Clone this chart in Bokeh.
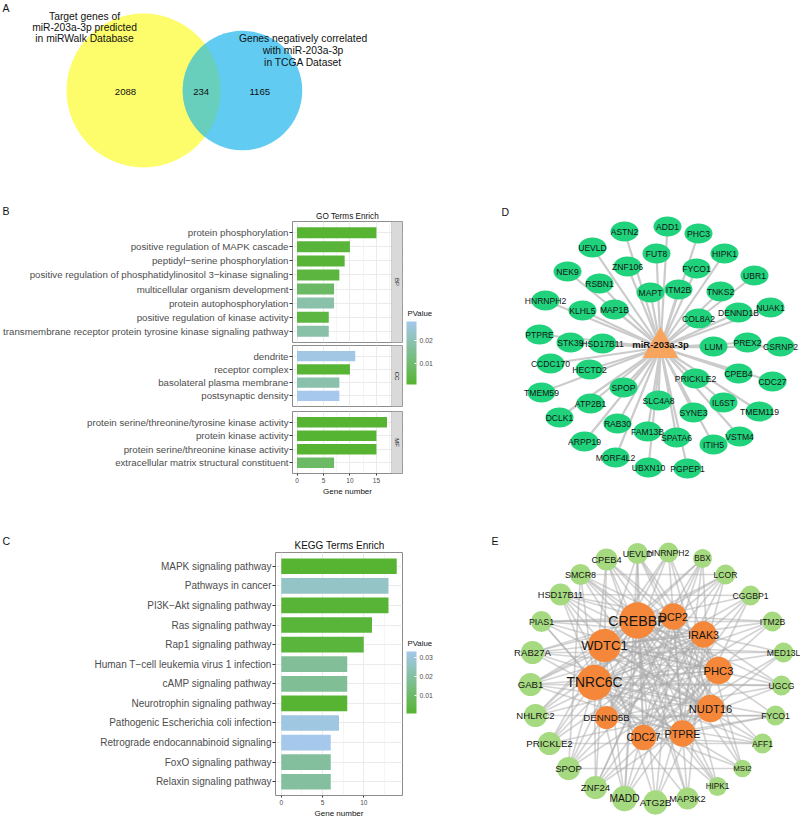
import numpy as np
from bokeh.plotting import figure
from bokeh.layouts import column, row
from bokeh.models import (Range1d, FactorRange, LinearColorMapper, ColorBar, FixedTicker,
                          SingleIntervalTicker, BoxAnnotation, Label, ColumnDataSource,
                          PrintfTickFormatter)
from bokeh.core.properties import value
from bokeh.embed import file_html
from bokeh.resources import INLINE

FONT = "Liberation Sans"

# ======================= DATA =======================
# Panel A: Venn diagram
venn_only_a = 2088
venn_both = 234
venn_only_b = 1165
venn_title_a = ["Target genes of", "miR-203a-3p predicted", "in miRWalk Database"]
venn_title_b = ["Genes negatively correlated", "with miR-203a-3p", "in TCGA Dataset"]

# Panel B: GO enrichment (facets BP / CC / MF)
go_bp_terms = ["protein phosphorylation",
               "positive regulation of MAPK cascade",
               "peptidyl\u2212serine phosphorylation",
               "positive regulation of phosphatidylinositol 3\u2212kinase signaling",
               "multicellular organism development",
               "protein autophosphorylation",
               "positive regulation of kinase activity",
               "transmembrane receptor protein tyrosine kinase signaling pathway"]
go_bp_counts = [15, 10, 9, 8, 7, 7, 6, 6]
go_bp_pvals = [0.0008, 0.0015, 0.0012, 0.0025, 0.0080, 0.0185, 0.0030, 0.0180]

go_cc_terms = ["dendrite", "receptor complex", "basolateral plasma membrane", "postsynaptic density"]
go_cc_counts = [11, 10, 8, 8]
go_cc_pvals = [0.0275, 0.0010, 0.0190, 0.0285]

go_mf_terms = ["protein serine/threonine/tyrosine kinase activity",
               "protein kinase activity",
               "protein serine/threonine kinase activity",
               "extracellular matrix structural constituent"]
go_mf_counts = [17, 15, 15, 7]
go_mf_pvals = [0.0005, 0.0007, 0.0006, 0.0083]

# Panel C: KEGG enrichment
kegg_terms = ["MAPK signaling pathway", "Pathways in cancer", "PI3K\u2212Akt signaling pathway",
              "Ras signaling pathway", "Rap1 signaling pathway",
              "Human T\u2212cell leukemia virus 1 infection", "cAMP signaling pathway",
              "Neurotrophin signaling pathway", "Pathogenic Escherichia coli infection",
              "Retrograde endocannabinoid signaling", "FoxO signaling pathway",
              "Relaxin signaling pathway"]
kegg_counts = [14, 13, 13, 11, 10, 8, 8, 8, 7, 6, 6, 6]
kegg_pvals = [0.0010, 0.0265, 0.0015, 0.0020, 0.0025, 0.0185, 0.0180, 0.0007,
              0.0310, 0.0330, 0.0190, 0.0195]

# Panel D: miRNA - target network
d_center = "miR-203a-3p"
d_genes = ["ASTN2", "ADD1", "PHC3", "UEVLD", "FUT8", "HIPK1", "ZNF106", "FYCO1", "NEK9", "UBR1",
           "RSBN1", "MAPT", "ITM2B", "TNKS2", "HNRNPH2", "NUAK1", "KLHL5", "MAP1B", "DENND1B",
           "COL8A2", "PTPRE", "STK39", "HSD17B11", "LUM", "PREX2", "CSRNP2", "CCDC170", "HECTD2",
           "PRICKLE2", "CPEB4", "CDC27", "TMEM59", "SPOP", "SLC4A8", "IL6ST", "ATP2B1", "SYNE3",
           "TMEM119", "DCLK1", "RAB30", "FAM13B", "SPATA6", "VSTM4", "ARPP19", "ITIH5", "MORF4L2",
           "UBXN10", "PGPEP1"]

# Panel E: PPI network
e_genes = ["UEVLD", "HNRNPH2", "BBX", "CPEB4", "SMCR8", "LCOR", "HSD17B11", "CGGBP1", "PIAS1",
           "ITM2B", "RAB27A", "MED13L", "GAB1", "UGCG", "NHLRC2", "FYCO1", "PRICKLE2", "AFF1",
           "SPOP", "MSI2", "ZNF24", "HIPK1", "MADD", "ATG2B", "MAP3K2",
           "CREBBP", "DCP2", "IRAK3", "WDTC1", "PHC3", "TNRC6C", "NUDT16", "DENND5B", "CDC27", "PTPRE"]
e_hub = [0] * 25 + [1] * 10
e_degree = [10, 9, 8, 11, 10, 9, 11, 9, 10, 9, 12, 9, 12, 9, 12, 9, 12, 9, 12, 7, 12, 8, 14, 13, 11,
            24, 15, 15, 21, 16, 23, 16, 12, 14, 15]
e_links = {
    "TNRC6C": "CPEB4 UEVLD HNRNPH2 LCOR CGGBP1 ITM2B MED13L UGCG FYCO1 AFF1 MSI2 HIPK1 MAP3K2 MADD ZNF24 SPOP PIAS1 HSD17B11 SMCR8 CREBBP WDTC1 NUDT16 PHC3 IRAK3",
    "CREBBP": "SMCR8 UEVLD BBX LCOR CGGBP1 MED13L UGCG FYCO1 AFF1 MSI2 HIPK1 MAP3K2 ATG2B MADD SPOP PRICKLE2 NHLRC2 GAB1 RAB27A PIAS1 DCP2 WDTC1 PTPRE CDC27",
    "WDTC1": "CPEB4 HNRNPH2 BBX LCOR ITM2B MED13L UGCG AFF1 HIPK1 ATG2B ZNF24 MADD PRICKLE2 NHLRC2 GAB1 HSD17B11 IRAK3 NUDT16 PHC3",
    "DCP2": "CPEB4 UEVLD HSD17B11 PIAS1 RAB27A GAB1 NHLRC2 PRICKLE2 SPOP ZNF24 MADD ATG2B MAP3K2 HIPK1 MSI2 ITM2B",
    "IRAK3": "SMCR8 HSD17B11 PIAS1 RAB27A GAB1 NHLRC2 PRICKLE2 SPOP ZNF24 MADD ATG2B MAP3K2 MSI2 UGCG",
    "PHC3": "SMCR8 HSD17B11 PIAS1 RAB27A GAB1 NHLRC2 SPOP ZNF24 CPEB4 UEVLD HNRNPH2 ATG2B MADD",
    "NUDT16": "HSD17B11 PIAS1 RAB27A GAB1 SMCR8 CPEB4 UEVLD HNRNPH2 BBX PRICKLE2 ZNF24",
    "PTPRE": "SMCR8 CPEB4 HNRNPH2 BBX LCOR CGGBP1 RAB27A GAB1 MED13L FYCO1 HIPK1",
    "CDC27": "UEVLD BBX LCOR CGGBP1 ITM2B MED13L UGCG FYCO1 AFF1 PIAS1 HSD17B11",
    "DENND5B": "HNRNPH2 BBX LCOR CGGBP1 ITM2B UGCG FYCO1 AFF1 MSI2",
    "PIAS1": "ITM2B", "HSD17B11": "CGGBP1", "RAB27A": "MED13L", "GAB1": "UGCG",
    "SMCR8": "LCOR SPOP", "NHLRC2": "FYCO1", "SPOP": "MSI2", "CPEB4": "MAP3K2",
    "UEVLD": "MADD", "BBX": "ZNF24", "PRICKLE2": "AFF1",
}

# ======================= LAYOUT (node placement, page pixels) =======================
d_center_xy = (660, 347)
d_x = [624, 667, 698, 592, 656, 724, 627, 696, 567, 754, 599, 650, 678, 720, 545, 770, 582, 614,
       738, 698, 539, 570, 602, 713, 747, 780, 550, 589, 695, 738, 772, 541, 623, 658, 723, 590,
       693, 759, 559, 617, 647, 676, 739, 584, 713, 615, 648, 687]
d_y = [231, 226, 233, 247, 253, 253, 266, 268, 271, 275, 283, 292, 289, 291, 300, 307, 310, 309,
       312, 318, 334, 342, 343, 346, 342, 346, 363, 369, 378, 373, 381, 392, 387, 400, 402, 403,
       412, 411, 417, 423, 431, 437, 436, 441, 444, 457, 467, 468]

e_x = [637, 668, 702, 606, 580, 725, 560, 750, 541, 772, 532, 783, 530, 781, 535, 775, 549, 762,
       568, 742, 595, 717, 624, 655, 687,
       637, 673, 703, 604, 718, 594, 710, 606, 643, 682]
e_y = [553, 552, 558, 559, 574, 574, 594, 595, 621, 621, 652, 652, 684, 685, 715, 715, 743, 743,
       768, 768, 787, 786, 798, 802, 798,
       620, 616, 634, 645, 670, 682, 708, 717, 737, 733]

# ======================= STYLE =======================
LOW, HIGH = "#56B432", "#A5C8EC"
INK = "#111111"


def lerp_palette(c0, c1, n=256):
    a = np.array([int(c0[i:i + 2], 16) for i in (1, 3, 5)], dtype=float)
    b = np.array([int(c1[i:i + 2], 16) for i in (1, 3, 5)], dtype=float)
    out = []
    for t in np.linspace(0, 1, n):
        c = np.round(a + (b - a) * t).astype(int)
        out.append("#%02x%02x%02x" % tuple(c))
    return out


PAL = lerp_palette(LOW, HIGH)


def bare(width, height, xr, yr):
    p = figure(width=width, height=height, x_range=xr, y_range=yr,
               x_axis_type=None, y_axis_type=None, toolbar_location=None,
               output_backend="svg", min_border_left=0, min_border_right=0,
               min_border_top=0, min_border_bottom=0)
    p.outline_line_color = None
    p.background_fill_color = "white"
    p.border_fill_color = "white"
    return p


def txt(p, x, y, t, size, align="left", style="normal", color=INK):
    p.text(x, y, t, text_font=value(FONT), text_font_size=size, text_align=align,
           text_baseline="middle", text_font_style=style, text_color=color)


# ======================= PANEL A =======================
fa = bare(800, 195, Range1d(0, 800), Range1d(195, 0))
set_a = venn_only_a + venn_both
set_b = venn_only_b + venn_both
k = 1.598
ra, rb = k * np.sqrt(set_a), k * np.sqrt(set_b)
cax, cbx, cy = 143.0, 242.0, 90.0
fa.circle([cax], [cy], radius=ra, fill_color="#FDFD6B", line_color=None)
fa.circle([cbx], [cy], radius=rb, fill_color="#62CBF1", line_color=None)
dd = cbx - cax
aa = (dd * dd + ra * ra - rb * rb) / (2 * dd)
hh = np.sqrt(ra * ra - aa * aa)
tha = np.arctan2(hh, aa)
thb = np.arctan2(hh, dd - aa)
ta = np.linspace(-tha, tha, 80)
tb = np.linspace(np.pi - thb, np.pi + thb, 80)
lx = np.concatenate([cax + ra * np.cos(ta), cbx + rb * np.cos(tb)])
ly = np.concatenate([cy + ra * np.sin(ta), cy + rb * np.sin(tb)])
fa.patch(lx, ly, fill_color="#67CFBC", line_color=None)
txt(fa, [84] * 3, [16, 27.3, 38.3], venn_title_a, "10.3px", "center")
txt(fa, [302.5] * 3, [38.3, 50, 61.7], venn_title_b, "10.3px", "center")
txt(fa, [125, 200.7, 259.3], [91, 91, 91],
    [str(venn_only_a), str(venn_both), str(venn_only_b)], "9.6px", "center")
txt(fa, [2], [7], ["A"], "10.5px")

# ======================= PANEL B =======================
GO_W, GO_LEFT, GO_RIGHT, STRIP_PX = 404, 292, 2, 11
go_max = max(go_bp_counts + go_cc_counts + go_mf_counts)
go_x0, go_x1 = -0.05 * go_max, 1.05 * go_max
go_ppu = (GO_W - GO_LEFT - GO_RIGHT - STRIP_PX) / (go_x1 - go_x0)
go_xend = go_x1 + STRIP_PX / go_ppu
go_all_p = go_bp_pvals + go_cc_pvals + go_mf_pvals
go_mapper = LinearColorMapper(palette=PAL, low=min(go_all_p), high=max(go_all_p))


def style_axes(p, ysize):
    for ax in p.yaxis:
        ax.axis_line_color = None
        ax.major_tick_line_color = "#333333"
        ax.major_tick_out = 3
        ax.major_tick_in = 0
        ax.major_label_standoff = 1
        ax.major_label_text_font = FONT
        ax.major_label_text_font_size = ysize
        ax.major_label_text_color = "#4D4D4D"
    for ax in p.xaxis:
        ax.axis_line_color = None
        ax.major_tick_line_color = "#333333"
        ax.minor_tick_line_color = None
        ax.major_tick_out = 2
        ax.major_tick_in = 0
        ax.major_label_standoff = 0
        ax.major_label_text_font = FONT
        ax.major_label_text_font_size = "6.5px"
        ax.major_label_text_color = "#4D4D4D"
        ax.axis_label = "Gene number"
        ax.axis_label_text_font = FONT
        ax.axis_label_text_font_size = "8px"
        ax.axis_label_text_font_style = "normal"
        ax.axis_label_text_color = INK
        ax.axis_label_standoff = 1
    tick = SingleIntervalTicker(interval=5, num_minor_ticks=2)
    for ax in p.xaxis:
        ax.ticker = tick
    for g in p.xgrid:
        g.ticker = tick
        g.grid_line_color = "#EBEBEB"
        g.minor_grid_line_color = "#EBEBEB"
        g.minor_grid_line_width = 0.5
    for g in p.ygrid:
        g.grid_line_color = "#EBEBEB"
    p.outline_line_color = "#8C8C8C"
    p.outline_line_width = 1
    p.background_fill_color = "white"
    p.border_fill_color = "white"


def go_facet(terms, counts, pvals, strip, height, top, bottom, show_x):
    p = figure(width=GO_W, height=height, x_range=Range1d(go_x0, go_xend),
               y_range=FactorRange(factors=list(reversed(terms)), range_padding=0.3,
                                   range_padding_units="absolute"),
               x_axis_location="below" if show_x else None,
               min_border_left=GO_LEFT, min_border_right=GO_RIGHT,
               min_border_top=top, min_border_bottom=bottom,
               toolbar_location=None, output_backend="svg")
    src = ColumnDataSource(dict(term=terms, count=counts, p=pvals))
    p.hbar(y="term", left=0, right="count", height=0.78, source=src,
           fill_color={"field": "p", "transform": go_mapper}, line_color=None)
    style_axes(p, "9.7px")
    p.add_layout(BoxAnnotation(left=go_x1, fill_color="#D9D9D9", fill_alpha=1.0,
                               line_color="#8C8C8C", line_width=1))
    fh = height - top - bottom
    p.add_layout(Label(x=(go_x1 + go_xend) / 2, y=fh / 2, x_units="data", y_units="screen",
                       text=strip, angle=-np.pi / 2, text_align="center", text_baseline="middle",
                       text_font=FONT, text_font_size="6px", text_color="#1A1A1A"))
    return p


hdr_b = bare(GO_W, 26, Range1d(0, GO_W), Range1d(221, 195))
txt(hdr_b, [2], [210], ["B"], "10.5px")
txt(hdr_b, [347], [215.5], ["GO Terms Enrich"], "8.2px", "center")
bp = go_facet(go_bp_terms, go_bp_counts, go_bp_pvals, "BP", 122, 0, 1, False)
cc = go_facet(go_cc_terms, go_cc_counts, go_cc_pvals, "CC", 65, 2, 2, False)
mf = go_facet(go_mf_terms, go_mf_counts, go_mf_pvals, "MF", 127, 3, 62, True)


def legend_fig(height, y_top, mapper, ticks, bar_top, bar_h, title_y):
    p = bare(36, height, Range1d(404, 440), Range1d(y_top + height, y_top))
    txt(p, [407], [title_y], ["PValue"], "7.8px")
    cb = ColorBar(color_mapper=mapper, ticker=FixedTicker(ticks=ticks),
                  formatter=PrintfTickFormatter(format="%.2f"),
                  width=10, height=bar_h, orientation="vertical",
                  location=(2, height - (bar_top - y_top) - bar_h),
                  margin=0, padding=0,
                  major_label_text_font=FONT, major_label_text_font_size="6.8px",
                  major_label_text_color="#4D4D4D", label_standoff=3,
                  major_tick_line_color="white", major_tick_in=2, major_tick_out=0,
                  minor_tick_line_color=None, bar_line_color=None,
                  background_fill_color=None, border_line_color=None)
    p.add_layout(cb, "center")
    return p


leg_b = legend_fig(340, 195, go_mapper, [0.01, 0.02], 321, 63, 313)

# ======================= PANEL D =======================
fd = bare(360, 340, Range1d(440, 800), Range1d(535, 195))
fd.segment(x0=[d_center_xy[0]] * len(d_x), y0=[d_center_xy[1]] * len(d_y), x1=d_x, y1=d_y,
           line_color="#CBCBCB", line_width=2.2)
fd.ellipse(d_x, d_y, width=28, height=20, fill_color="#20D27C", line_color=None)
txt(fd, d_x, d_y, d_genes, "8.6px", "center", color="#151515")
fd.scatter([d_center_xy[0]], [d_center_xy[1]], marker="triangle", size=36,
           fill_color="#F7A45F", line_color=None)
txt(fd, [d_center_xy[0]], [d_center_xy[1] - 3.5], [d_center], "9.5px", "center", "bold", "#151515")
txt(fd, [501], [211], ["D"], "10.5px")

# ======================= PANEL C =======================
KG_W, KG_LEFT, KG_H, KG_BOTTOM = 404, 275, 268, 20
kegg_max = max(kegg_counts)
kegg_mapper = LinearColorMapper(palette=PAL, low=min(kegg_pvals), high=max(kegg_pvals))
hdr_c = bare(KG_W, 17, Range1d(0, KG_W), Range1d(552, 535))
txt(hdr_c, [2], [540], ["C"], "10.5px")
txt(hdr_c, [339], [544.5], ["KEGG Terms Enrich"], "10px", "center")
kg = figure(width=KG_W, height=KG_H, x_range=Range1d(-0.05 * kegg_max, 1.05 * kegg_max),
            y_range=FactorRange(factors=list(reversed(kegg_terms)), range_padding=0.2,
                                range_padding_units="absolute"),
            min_border_left=KG_LEFT, min_border_right=2, min_border_top=0,
            min_border_bottom=KG_BOTTOM, toolbar_location=None, output_backend="svg")
ksrc = ColumnDataSource(dict(term=kegg_terms, count=kegg_counts, p=kegg_pvals))
kg.hbar(y="term", left=0, right="count", height=0.8, source=ksrc,
        fill_color={"field": "p", "transform": kegg_mapper}, line_color=None)
style_axes(kg, "10px")

leg_c = legend_fig(285, 535, kegg_mapper, [0.01, 0.02, 0.03], 651, 62, 643)

# ======================= PANEL E =======================
fe = bare(360, 285, Range1d(440, 800), Range1d(820, 535))
pos = {g: (x, y) for g, x, y in zip(e_genes, e_x, e_y)}
x0s, y0s, x1s, y1s = [], [], [], []
for a, partners in e_links.items():
    for b in partners.split():
        x0s.append(pos[a][0]); y0s.append(pos[a][1])
        x1s.append(pos[b][0]); y1s.append(pos[b][1])
fe.segment(x0=x0s, y0=y0s, x1=x1s, y1=y1s, line_color="#A9A9A9", line_alpha=0.5, line_width=1.7)
deg = np.array(e_degree, dtype=float)
hub = np.array(e_hub)
rad = 5 + 0.55 * deg
fsz = np.where(hub == 1, 0.68 * rad + 1.8, 0.6 * rad + 2.6)
esrc = ColumnDataSource(dict(
    x=e_x, y=e_y, name=e_genes, r=rad,
    col=["#F5873A" if h else "#A6DA80" for h in e_hub],
    fs=["%.1fpx" % f for f in fsz]))
fe.circle("x", "y", radius="r", source=esrc, fill_color="col", line_color=None)
fe.text("x", "y", "name", source=esrc, text_font=value(FONT), text_font_size="fs",
        text_align="center", text_baseline="middle", text_color="#151515")
txt(fe, [491], [540], ["E"], "10.5px")

row_b = row(column(column(hdr_b), column(bp, cc, mf)), column(leg_b), column(fd))
row_c = row(column(column(hdr_c), column(kg)), column(leg_c), column(fe))
layout = column(fa, row_b, row_c)
open("out.html", "w").write(file_html(layout, INLINE, title="figure"))
